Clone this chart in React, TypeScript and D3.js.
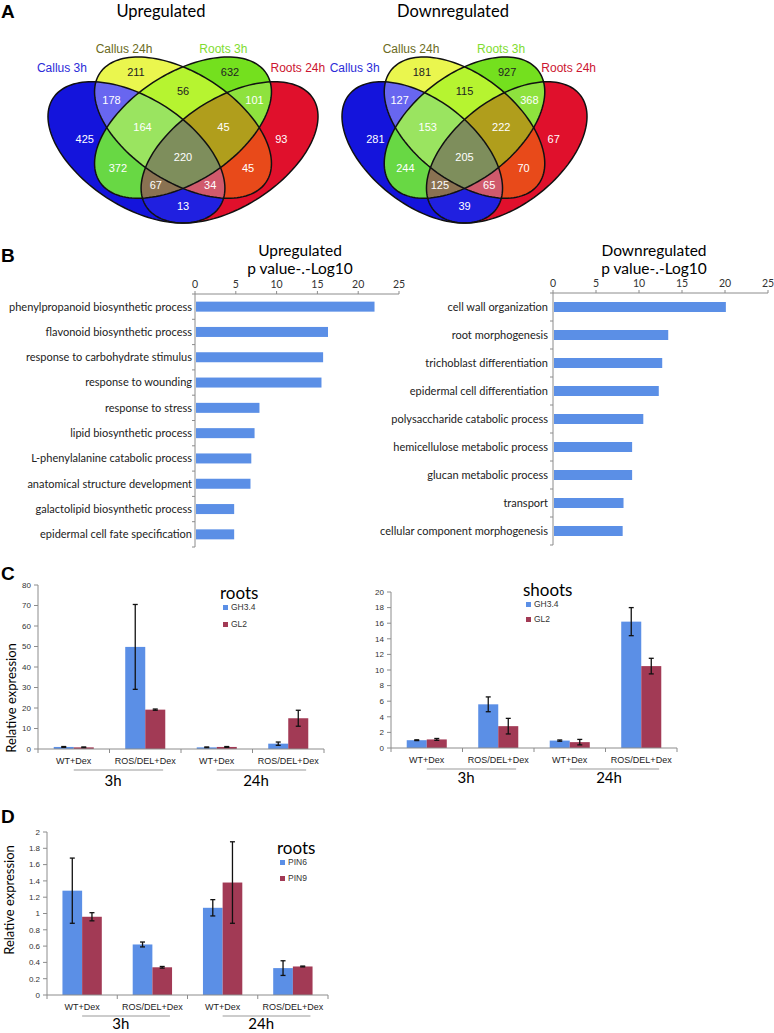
import React from "react";
import * as d3 from "d3";

const W = 774;
const H = 1033;
const FONT_C = "Lato, 'Open Sans', sans-serif";
const FONT_A = "'Liberation Sans', Arial, sans-serif";

// ---- A: Venn diagrams (sets a=Callus 3h, b=Callus 24h, c=Roots 3h, d=Roots 24h)
const vennSets = ["Callus 3h", "Callus 24h", "Roots 3h", "Roots 24h"];
const vennSetColors = ["#2b2bd8", "#6b6b22", "#80dc30", "#cc1530"];
const vennRegionKeys = ["a", "b", "c", "d", "ab", "bc", "cd", "ad", "ac", "bd", "abc", "bcd", "acd", "abd", "abcd"];
const upCounts = [425, 211, 632, 93, 178, 56, 101, 13, 372, 45, 164, 45, 67, 34, 220];
const downCounts = [281, 181, 927, 67, 127, 115, 368, 39, 244, 70, 153, 222, 125, 65, 205];
const regionFills = ["#1414dc", "#eaf64e", "#74e01e", "#e0102c", "#6866f0", "#b6f430", "#8ee23e", "#2020e0",
  "#68d844", "#e84a1a", "#9ae460", "#b09e1c", "#8a7252", "#d05a6c", "#7e8e5c"];
const darkLabelRegions = ["b", "c", "bc"];

// ---- B: GO enrichment
const upTerms = ["phenylpropanoid biosynthetic process", "flavonoid biosynthetic process", "response to carbohydrate stimulus",
  "response to wounding", "response to stress", "lipid biosynthetic process", "L-phenylalanine catabolic process",
  "anatomical structure development", "galactolipid biosynthetic process", "epidermal cell fate specification"];
const upPvals = [22.0, 16.3, 15.7, 15.5, 7.9, 7.3, 6.9, 6.8, 4.8, 4.8];
const downTerms = ["cell wall organization", "root morphogenesis", "trichoblast differentiation", "epidermal cell differentiation",
  "polysaccharide catabolic process", "hemicellulose metabolic process", "glucan metabolic process", "transport",
  "cellular component morphogenesis"];
const downPvals = [20.1, 13.4, 12.7, 12.3, 10.5, 9.2, 9.2, 8.2, 8.1];
const pTicks = [0, 5, 10, 15, 20, 25];

// ---- C / D: qPCR
const qCats = ["WT+Dex", "ROS/DEL+Dex", "WT+Dex", "ROS/DEL+Dex"];
const qGroups = ["3h", "24h"];
const rootsGH34 = [1.0, 49.8, 0.8, 2.6];
const rootsGH34Err = [0.2, 20.7, 0.2, 0.8];
const rootsGL2 = [0.8, 19.2, 1.0, 15.0];
const rootsGL2Err = [0.2, 0.3, 0.2, 3.9];
const shootsGH34 = [1.0, 5.6, 0.95, 16.2];
const shootsGH34Err = [0.05, 0.95, 0.08, 1.8];
const shootsGL2 = [1.1, 2.8, 0.75, 10.5];
const shootsGL2Err = [0.12, 1.0, 0.35, 1.0];
const pin6 = [1.28, 0.62, 1.07, 0.33];
const pin6Err = [0.4, 0.03, 0.1, 0.09];
const pin9 = [0.96, 0.34, 1.38, 0.35];
const pin9Err = [0.05, 0.01, 0.5, 0.005];

const BLUE = "#5b8fe6";
const RED = "#a23a55";

type Ell = { cx: number; cy: number; a: number; b: number; rot: number };
const ellipses: Ell[] = [
  { cx: 0.35, cy: 0.47, a: 0.35, b: 0.2, rot: 135 },
  { cx: 0.5, cy: 0.57, a: 0.35, b: 0.2, rot: 135 },
  { cx: 0.5, cy: 0.57, a: 0.35, b: 0.2, rot: 45 },
  { cx: 0.65, cy: 0.47, a: 0.35, b: 0.2, rot: 45 },
];

function ellipsePoints(e: Ell): [number, number][] {
  const th = (e.rot * Math.PI) / 180;
  return d3.range(144).map((i) => {
    const t = (i / 144) * 2 * Math.PI;
    return [
      e.cx + e.a * Math.cos(t) * Math.cos(th) - e.b * Math.sin(t) * Math.sin(th),
      e.cy + e.a * Math.cos(t) * Math.sin(th) + e.b * Math.sin(t) * Math.cos(th),
    ];
  });
}

function inside(e: Ell, x: number, y: number) {
  const th = (e.rot * Math.PI) / 180;
  const dx = x - e.cx, dy = y - e.cy;
  const u = dx * Math.cos(th) + dy * Math.sin(th);
  const v = -dx * Math.sin(th) + dy * Math.cos(th);
  return (u / e.a) ** 2 + (v / e.b) ** 2 <= 1;
}

// centroid of each region, found by sampling the unit square
const regionCentroids = (() => {
  const acc: Record<string, [number, number, number]> = {};
  for (let x = 0.05; x < 0.95; x += 0.004) {
    for (let y = 0.15; y < 0.9; y += 0.004) {
      const key = ellipses.map((e, i) => (inside(e, x, y) ? "abcd"[i] : "")).join("");
      if (!key) continue;
      const s = acc[key] || (acc[key] = [0, 0, 0]);
      s[0] += x; s[1] += y; s[2] += 1;
    }
  }
  const out: Record<string, [number, number]> = {};
  Object.keys(acc).forEach((k) => (out[k] = [acc[k][0] / acc[k][2], acc[k][1] / acc[k][2]]));
  return out;
})();

const setLabelPos: [number, number][] = [[0.11, 0.81], [0.31, 0.89], [0.63, 0.89], [0.87, 0.81]];

function Venn({ id, counts, xr, title, titleX }: { id: string; counts: number[]; xr: [number, number]; title: string; titleX: number }) {
  const x = d3.scaleLinear().domain([0.065, 0.935]).range(xr);
  const y = d3.scaleLinear().domain([0.185, 0.855]).range([223, 57]);
  const line = d3.line<[number, number]>().x((p) => x(p[0])).y((p) => y(p[1])).curve(d3.curveLinearClosed);
  const paths = ellipses.map((e) => line(ellipsePoints(e)) as string);
  return (
    <g>
      <text x={titleX} y={17} textAnchor="middle" fontFamily={FONT_C} fontSize={16.5}>{title}</text>
      <defs>
        {paths.map((d, i) => (
          <clipPath id={`${id}-c${i}`} key={i}><path d={d} /></clipPath>
        ))}
        {vennRegionKeys.map((k) => (
          <mask id={`${id}-m-${k}`} key={k} maskUnits="userSpaceOnUse" x={0} y={0} width={W} height={300}>
            <rect x={0} y={0} width={W} height={300} fill="white" />
            {[0, 1, 2, 3].filter((i) => !k.includes("abcd"[i])).map((i) => (
              <path key={i} d={paths[i]} fill="black" />
            ))}
          </mask>
        ))}
      </defs>
      {vennRegionKeys.map((k, ri) => {
        let node = <rect x={xr[0] - 5} y={45} width={xr[1] - xr[0] + 10} height={190} fill={regionFills[ri]} />;
        [0, 1, 2, 3].filter((i) => k.includes("abcd"[i])).forEach((i) => {
          node = <g clipPath={`url(#${id}-c${i})`}>{node}</g>;
        });
        return <g key={k} mask={`url(#${id}-m-${k})`}>{node}</g>;
      })}
      {paths.map((d, i) => (
        <path key={i} d={d} fill="none" stroke="#111" strokeWidth={1.5} />
      ))}
      {vennRegionKeys.map((k, ri) => {
        const c = regionCentroids[k];
        return (
          <text key={k} x={x(c[0])} y={y(c[1])} dy="0.35em" textAnchor="middle" fontFamily={FONT_A} fontSize={11}
            fill={darkLabelRegions.includes(k) ? "#222" : "#fff"}>{counts[ri]}</text>
        );
      })}
      {vennSets.map((s, i) => (
        <text key={s} x={x(setLabelPos[i][0])} y={y(setLabelPos[i][1])} dy="0.35em" textAnchor="middle"
          fontFamily={FONT_A} fontSize={12} fill={vennSetColors[i]}>{s}</text>
      ))}
    </g>
  );
}

function GoBars({ terms, values, x0, x1, axisY, bottom, labelX, title, titleX }: {
  terms: string[]; values: number[]; x0: number; x1: number; axisY: number; bottom: number; labelX: number; title: string; titleX: number;
}) {
  const x = d3.scaleLinear().domain([0, 25]).range([x0, x1]);
  const step = (bottom - axisY) / terms.length;
  const inner = 1 - 10 / step;
  const y = d3.scaleBand<string>().domain(terms).range([axisY, bottom]).paddingInner(inner).paddingOuter(inner / 2);
  const axisCol = "#8c8c8c";
  return (
    <g fontFamily={FONT_C}>
      <text x={titleX} y={256} textAnchor="middle" fontSize={15.5}>{title}</text>
      <text x={titleX} y={274} textAnchor="middle" fontSize={15.5}>p value-.-Log10</text>
      <line x1={x0} x2={x1} y1={axisY} y2={axisY} stroke={axisCol} />
      {pTicks.map((t) => (
        <g key={t}>
          <line x1={x(t)} x2={x(t)} y1={axisY} y2={axisY - 3} stroke={axisCol} />
          <text x={x(t)} y={axisY - 6} textAnchor="middle" fontSize={10.5} fill="#333">{t}</text>
        </g>
      ))}
      <line x1={x0} x2={x0} y1={axisY} y2={bottom} stroke={axisCol} />
      {d3.range(terms.length + 1).map((k) => (
        <line key={k} x1={x0 - 3} x2={x0} y1={axisY + k * step} y2={axisY + k * step} stroke={axisCol} />
      ))}
      {terms.map((t, i) => (
        <g key={t}>
          <rect x={x(0) + 1} y={y(t)} width={x(values[i]) - x(0) - 1} height={y.bandwidth()} fill={BLUE} />
          <text x={labelX} y={(y(t) as number) + y.bandwidth() / 2} dy="0.35em" textAnchor="end" fontSize={11} fill="#222">{t}</text>
        </g>
      ))}
    </g>
  );
}

type Series = { name: string; color: string; values: number[]; errs: number[] };

function QBars({ series, xr, y0, yTop, yMax, tickStep, legend, yLabel, groupDy = 37 }: {
  series: Series[]; xr: [number, number]; y0: number; yTop: number; yMax: number; tickStep: number;
  legend: { x: number; y: number; title: string; gap: number }; yLabel?: { x: number; y: number }; groupDy?: number;
}) {
  const x = d3.scaleBand<number>().domain(d3.range(qCats.length)).range(xr);
  const bw = x.bandwidth();
  const inner = d3.scaleBand<string>().domain(series.map((s) => s.name)).range([-0.28 * bw, 0.28 * bw]);
  const y = d3.scaleLinear().domain([0, yMax]).range([y0, yTop]);
  const ticks = d3.range(0, yMax + tickStep / 2, tickStep);
  const axisCol = "#8c8c8c";
  const cx = (i: number) => (x(i) as number) + bw / 2;
  return (
    <g>
      <line x1={xr[0]} x2={xr[0]} y1={y0} y2={yTop} stroke={axisCol} />
      {ticks.map((t) => (
        <g key={t}>
          <line x1={xr[0] - 4} x2={xr[0]} y1={y(t)} y2={y(t)} stroke={axisCol} />
          <text x={xr[0] - 7} y={y(t)} dy="0.35em" textAnchor="end" fontFamily={FONT_A} fontSize={8} fill="#333">
            {String(+t.toFixed(1))}
          </text>
        </g>
      ))}
      {series.map((s) =>
        s.values.map((v, i) => {
          const bx = cx(i) + (inner(s.name) as number);
          const mid = bx + inner.bandwidth() / 2;
          const hi = y(v + s.errs[i]);
          const lo = y(Math.max(0, v - s.errs[i]));
          return (
            <g key={s.name + i}>
              <rect x={bx} y={y(v)} width={inner.bandwidth()} height={y0 - y(v)} fill={s.color} />
              <line x1={mid} x2={mid} y1={hi} y2={lo} stroke="#111" strokeWidth={1.3} />
              <line x1={mid - 2.5} x2={mid + 2.5} y1={hi} y2={hi} stroke="#111" strokeWidth={1.3} />
              <line x1={mid - 2.5} x2={mid + 2.5} y1={lo} y2={lo} stroke="#111" strokeWidth={1.3} />
            </g>
          );
        })
      )}
      <line x1={xr[0]} x2={xr[1]} y1={y0} y2={y0} stroke={axisCol} />
      {d3.range(qCats.length + 1).map((k) => (
        <line key={k} x1={xr[0] + k * bw} x2={xr[0] + k * bw} y1={y0} y2={y0 + 4} stroke={axisCol} />
      ))}
      {qCats.map((c, i) => (
        <text key={i} x={cx(i)} y={y0 + 15} textAnchor="middle" fontFamily={FONT_A} fontSize={9} fill="#222">{c}</text>
      ))}
      {qGroups.map((g, gi) => {
        const a = cx(gi * 2);
        const b = cx(gi * 2 + 1);
        return (
          <g key={g}>
            <line x1={a} x2={b + 0.25 * bw} y1={y0 + 21} y2={y0 + 21} stroke="#999" />
            <text x={(a + b) / 2 + 0.05 * bw} y={y0 + groupDy} textAnchor="middle" fontFamily={FONT_C} fontSize={15}>{g}</text>
          </g>
        );
      })}
      <text x={legend.x} y={legend.y} fontFamily={FONT_C} fontSize={17}>{legend.title}</text>
      {series.map((s, i) => (
        <g key={s.name}>
          <rect x={legend.x + 3} y={legend.y + 6 + i * legend.gap} width={5} height={5} fill={s.color} />
          <text x={legend.x + 11} y={legend.y + 8.5 + i * legend.gap} dy="0.35em" fontFamily={FONT_A} fontSize={8.5} fill="#333">{s.name}</text>
        </g>
      ))}
      {yLabel && (
        <text transform={`translate(${yLabel.x},${yLabel.y}) rotate(-90)`} textAnchor="middle" dy="0.35em" fontFamily={FONT_C} fontSize={13}>
          Relative expression
        </text>
      )}
    </g>
  );
}

export default function App() {
  const letter = { fontFamily: FONT_A, fontWeight: 700, fontSize: 19 } as const;
  return (
    <svg width={W} height={H} style={{ position: "absolute", left: 0, top: 0, background: "#fff" }}>
      <text x={1} y={18} {...letter}>A</text>
      <Venn id="up" counts={upCounts} xr={[48, 318]} title="Upregulated" titleX={161} />
      <Venn id="down" counts={downCounts} xr={[342, 587]} title="Downregulated" titleX={453} />

      <text x={1} y={262} {...letter}>B</text>
      <GoBars terms={upTerms} values={upPvals} x0={195} x1={399} axisY={294} bottom={547} labelX={192} title="Upregulated" titleX={300} />
      <GoBars terms={downTerms} values={downPvals} x0={553} x1={768} axisY={293} bottom={545} labelX={548} title="Downregulated" titleX={654} />

      <text x={1} y={580} {...letter}>C</text>
      <QBars
        series={[
          { name: "GH3.4", color: BLUE, values: rootsGH34, errs: rootsGH34Err },
          { name: "GL2", color: RED, values: rootsGL2, errs: rootsGL2Err },
        ]}
        xr={[38, 324]} y0={749} yTop={585} yMax={80} tickStep={10}
        legend={{ x: 220, y: 599, title: "roots", gap: 17 }} yLabel={{ x: 11, y: 698 }}
      />
      <QBars
        series={[
          { name: "GH3.4", color: BLUE, values: shootsGH34, errs: shootsGH34Err },
          { name: "GL2", color: RED, values: shootsGL2, errs: shootsGL2Err },
        ]}
        xr={[391, 677]} y0={748} yTop={592} yMax={20} tickStep={2}
        legend={{ x: 523, y: 596, title: "shoots", gap: 15 }} groupDy={35}
      />

      <text x={1} y={823} {...letter}>D</text>
      <QBars
        series={[
          { name: "PIN6", color: BLUE, values: pin6, errs: pin6Err },
          { name: "PIN9", color: RED, values: pin9, errs: pin9Err },
        ]}
        xr={[47, 328]} y0={995} yTop={832} yMax={2} tickStep={0.2}
        legend={{ x: 277, y: 854, title: "roots", gap: 16 }} yLabel={{ x: 9, y: 900 }} groupDy={34}
      />
    </svg>
  );
}
